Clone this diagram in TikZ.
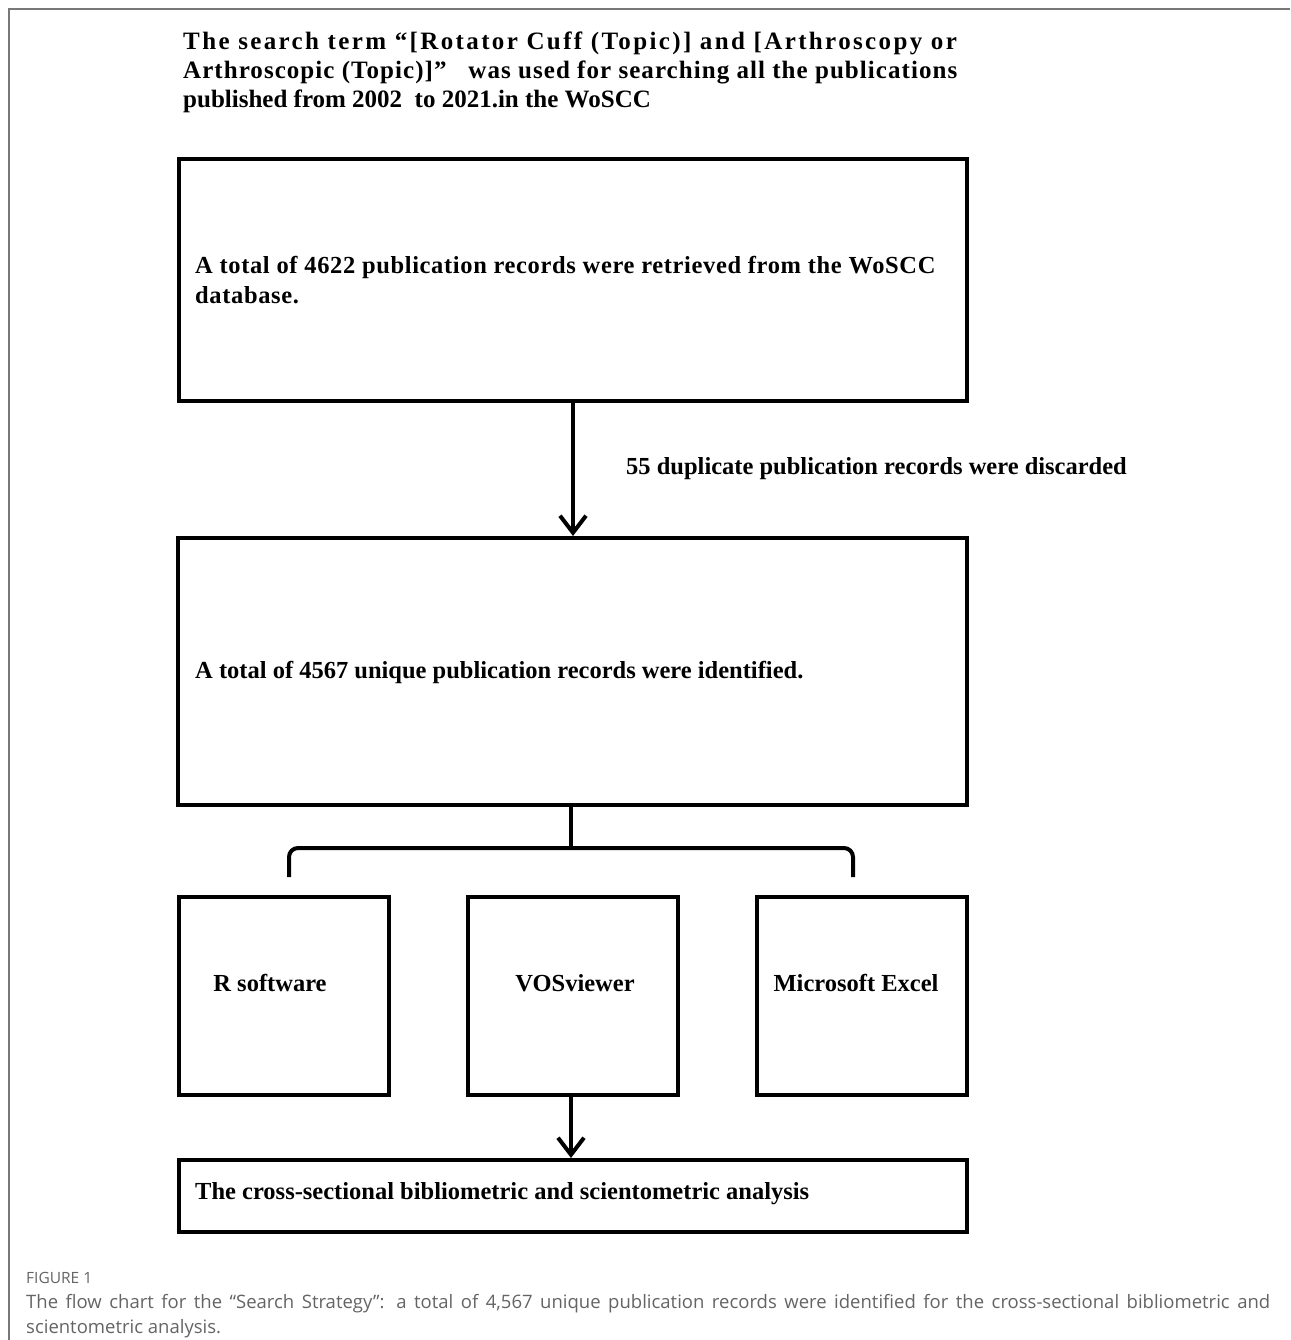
\documentclass[tikz,border=0pt]{standalone}
\usepackage{fontspec}
\setmainfont{Liberation Serif}
\newfontfamily\capfont{Open Sans}
\usetikzlibrary{arrows.meta}
\definecolor{framegray}{RGB}{120,120,120}
\definecolor{capgray}{RGB}{100,100,100}
\begin{document}
\begin{tikzpicture}[x=1pt,y=-1pt,
  box/.style={draw, line width=4pt, inner sep=0pt, anchor=north west},
  boxtext/.style={font=\fontsize{24.5}{30}\selectfont\bfseries, anchor=west, inner sep=0pt, align=left},
  lbl/.style={font=\fontsize{24.5}{30}\selectfont\bfseries, inner sep=0pt},
  conn/.style={line width=4pt},
  arr/.style={line width=4pt, -{Straight Barb[length=17pt,width=26pt,line width=4pt]}}]
\useasboundingbox (0,0) rectangle (1290,1340);
\draw[framegray, line width=2pt] (9,1340) -- (9,9) -- (1290,9);

% top text
\node[anchor=north west, inner sep=0pt, align=left,
  font=\fontsize{25}{29}\selectfont\bfseries] (intro) at (183,32)
  {\addfontfeatures{LetterSpace=9.5}The search term “[Rotator Cuff (Topic)] and [Arthroscopy or\\
   \addfontfeatures{LetterSpace=4.2}Arthroscopic (Topic)]”~~ was used for searching all the publications\\
   \addfontfeatures{LetterSpace=0}published from 2002~ to 2021.in the WoSCC};

% boxes
\node[box, minimum width=788pt, minimum height=242pt] (b1) at (177,157) {};
\node[boxtext] (t1) at (195,280) {\addfontfeatures{LetterSpace=2.6}A total of 4622 publication records were retrieved from the WoSCC\\\addfontfeatures{LetterSpace=2.6}database.};
\node[box, minimum width=789pt, minimum height=267pt] (b2) at (176,536) {};
\node[boxtext] (t2) at (195,672) {A total of 4567 unique publication records were identified.};

\draw[arr] (b1.south) -- (b1.south |- b2.north);
\node[lbl, anchor=west] (dup) at (626,469) {55 duplicate publication records were discarded};

% bracket
\coordinate (j) at (571,848);
\coordinate (bl) at (289,877);
\coordinate (br) at (853,877);
\draw[conn] (b2.south -| j) -- (j);
\draw[conn, rounded corners=9pt] (bl) |- (j) -| (br);

% software boxes
\node[box, minimum width=210pt, minimum height=198pt] (r) at (177,895) {};
\node[box, minimum width=210pt, minimum height=198pt] (vos) at (466,895) {};
\node[box, minimum width=210pt, minimum height=198pt] (xl) at (755,895) {};
\node[lbl] (rt) at (270,983) {R software};
\node[lbl] (vt) at (575,983) {VOSviewer};
\node[lbl] (xt) at (856,983) {Microsoft Excel};

% final box
\node[box, minimum width=788pt, minimum height=72pt] (fin) at (177,1158) {};
\node[boxtext] (ft) at (195,1194) {The cross-sectional bibliometric and scientometric analysis};
\draw[arr] (vos.south -| j) -- (fin.north -| j);

% caption
\node[anchor=west, inner sep=0pt, text=capgray, font=\capfont\fontsize{15.5}{18}\selectfont] (fig) at (26,1278) {FIGURE 1};
\node[anchor=north west, inner sep=0pt, text=capgray, text width=1244pt, align=justify,
  font=\capfont\fontsize{18.5}{25}\selectfont] (cap) at (26,1294)
  {The flow chart for the “Search Strategy”: a total of 4,567 unique publication records were identified for the cross-sectional bibliometric and\linebreak scientometric analysis.};
\end{tikzpicture}
\end{document}
